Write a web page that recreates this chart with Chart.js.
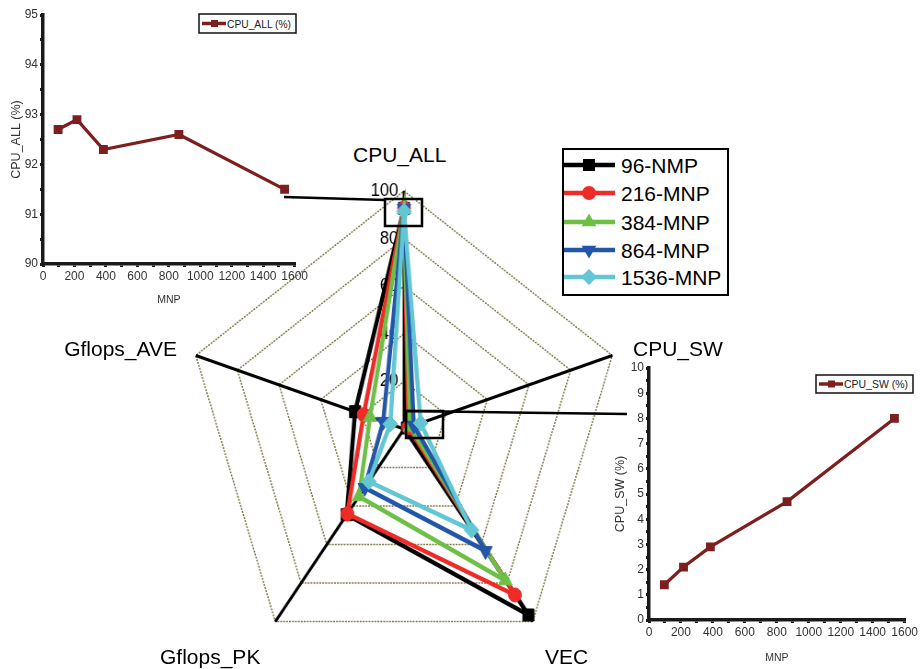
<!DOCTYPE html>
<html><head><meta charset="utf-8">
<script src="https://cdn.jsdelivr.net/npm/chart.js@4.4.1/dist/chart.umd.min.js"></script>
<style>
html,body{margin:0;padding:0;background:#fff;width:920px;height:669px;overflow:hidden;font-family:"Liberation Sans",Arial,sans-serif;}
.abs{position:absolute;}
#radarWrap{position:absolute;left:157px;top:182px;width:494px;height:494px;transform:scaleX(0.92);transform-origin:247px 247px;}
.plab{position:absolute;font-size:21px;line-height:21px;color:#000;white-space:nowrap;}
</style>
</head><body>
<div id="radarWrap"><canvas id="radar" width="494" height="494"></canvas></div>
<canvas id="in1" class="abs" style="left:0;top:0" width="310" height="310"></canvas>
<canvas id="in2" class="abs" style="left:600px;top:355px" width="320" height="314"></canvas>

<div class="plab" style="left:353px;top:144px">CPU_ALL</div>
<div class="plab" style="left:633px;top:338px">CPU_SW</div>
<div class="plab" style="left:20px;width:157px;text-align:right;top:338px">Gflops_AVE</div>
<div class="plab" style="left:545px;top:646px">VEC</div>
<div class="plab" style="left:160px;top:646px">Gflops_PK</div>

<svg id="legend" class="abs" style="left:562px;top:148px" width="167" height="148"></svg>
<svg id="leg1" class="abs" style="left:198px;top:13px" width="99" height="21"></svg>
<svg id="leg2" class="abs" style="left:815px;top:374px" width="99" height="20"></svg>

<svg class="abs" style="left:0;top:0" width="920" height="669">
  <line x1="284" y1="197" x2="385" y2="200" stroke="#000" stroke-width="2.5"/>
  <rect x="385" y="199" width="37" height="27" fill="none" stroke="#000" stroke-width="2.5"/>
  <rect x="406" y="411" width="37" height="27" fill="none" stroke="#000" stroke-width="2.5"/>
  <line x1="407" y1="411" x2="627" y2="414" stroke="#000" stroke-width="2.5"/>
</svg>

<script>
// ---------- data ----------
const axes = ['CPU_ALL', 'CPU_SW', 'VEC', 'Gflops_PK', 'Gflops_AVE'];
const seriesNames = ['96-NMP', '216-MNP', '384-MNP', '864-MNP', '1536-MNP'];
const s96   = [92.7, 1.4, 96.6, 44.5, 23.5];
const s216  = [92.9, 2.1, 86.2, 44.0, 19.4];
const s384  = [92.3, 2.9, 78.7, 35.0, 16.3];
const s864  = [92.6, 4.7, 63.3, 30.5, 10.0];
const s1536 = [91.5, 8.0, 52.5, 27.3, 6.6];
const radarTicks = [0, 20, 40, 60, 80, 100];
const mnp = [96, 216, 384, 864, 1536];
const cpuAll = [92.7, 92.9, 92.3, 92.6, 91.5];
const cpuSw = [1.4, 2.1, 2.9, 4.7, 8.0];
const mnpTicks = [0, 200, 400, 600, 800, 1000, 1200, 1400, 1600];

// ---------- styles ----------
const colors = ['#000000', '#ee2b27', '#6dbf46', '#2356a8', '#62c6d3'];
const styles = ['rect', 'circle', 'triangle', 'triangle', 'rectRot'];
const rots = [0, 0, 0, 180, 0];
const radii = [8.5, 7, 8.5, 8.5, 8];
const FAM = "'Liberation Sans', Arial, sans-serif";
const maroon = '#7d1f1f';

const allSeries = [s96, s216, s384, s864, s1536];
const tickPad = v => '\u2007'.repeat(String(v).length) + '\u2002\u2009';

new Chart(document.getElementById('radar'), {
  type: 'radar',
  data: {
    labels: axes,
    datasets: allSeries.map((d, i) => ({
      label: seriesNames[i], data: d,
      borderColor: colors[i], backgroundColor: colors[i],
      pointBackgroundColor: colors[i], pointBorderColor: colors[i],
      borderWidth: 4.5, pointStyle: styles[i], pointRotation: rots[i],
      pointRadius: radii[i], pointBorderWidth: 1, fill: false, tension: 0,
      order: 4 - i
    }))
  },
  options: {
    responsive: false, animation: false,
    layout: { padding: 0 },
    plugins: { legend: { display: false }, tooltip: { enabled: false } },
    scales: {
      r: {
        min: radarTicks[0], max: radarTicks[radarTicks.length - 1], beginAtZero: true,
        ticks: {
          stepSize: 20, color: '#000', font: { size: 18, family: FAM },
          showLabelBackdrop: false, backdropPadding: 0,
          callback: v => v + tickPad(v)
        },
        grid: { color: '#807648', lineWidth: 1.5, borderDash: [2, 1.2] },
        border: { dash: [2, 1.2] },
        angleLines: { color: '#000', lineWidth: 3 },
        pointLabels: { display: false }
      }
    }
  }
});

function inset(id, ys, yMin, yMax, yStep, yTitle, geo) {
  new Chart(document.getElementById(id), {
    type: 'line',
    data: {
      datasets: [{
        label: yTitle,
        data: mnp.map((x, i) => ({ x: x, y: ys[i] })),
        borderColor: maroon, backgroundColor: maroon,
        pointBackgroundColor: maroon, pointBorderColor: maroon,
        borderWidth: 3.2, pointStyle: 'rect', pointRadius: 4, tension: 0, fill: false
      }]
    },
    options: {
      responsive: false, animation: false,
      layout: { padding: { top: geo.top, right: geo.right, left: 0, bottom: 0 } },
      plugins: { legend: { display: false }, tooltip: { enabled: false } },
      scales: {
        x: {
          type: 'linear', min: mnpTicks[0], max: mnpTicks[mnpTicks.length - 1],
          ticks: {
            stepSize: 100, autoSkip: false, maxRotation: 0, padding: 2,
            color: '#333', font: { size: 12, family: FAM },
            callback: v => (mnpTicks.includes(v) ? String(v) : '')
          },
          grid: { drawOnChartArea: false, drawTicks: true, tickLength: 3, color: '#1a1a1a', lineWidth: 3 },
          border: { color: '#1a1a1a', width: 3.5 },
          title: { display: true, text: 'MNP', color: '#333', font: { size: 10.5, family: FAM }, padding: { top: 0, bottom: geo.xtb } },
          afterFit: s => { s.height = geo.xh; }
        },
        y: {
          min: yMin, max: yMax,
          ticks: {
            stepSize: yStep / 2, autoSkip: false, padding: 2,
            color: '#333', font: { size: 12, family: FAM },
            callback: v => (Math.abs(v - Math.round(v)) < 1e-6 ? String(Math.round(v)) : '')
          },
          grid: { drawOnChartArea: false, drawTicks: true, tickLength: 3, color: '#1a1a1a', lineWidth: 3 },
          border: { color: '#1a1a1a', width: 3.5 },
          title: { display: true, text: yTitle, color: '#333', font: { size: 12.5, family: FAM }, padding: { top: geo.ytp, bottom: 0 } },
          afterFit: s => { s.width = geo.yw; }
        }
      }
    }
  });
}
inset('in1', cpuAll, 90, 95, 1, 'CPU_ALL (%)', { top: 15, right: 15, xh: 46, yw: 43, xtb: 4, ytp: 9 });
inset('in2', cpuSw, 0, 10, 1, 'CPU_SW (%)', { top: 13, right: 13, xh: 49, yw: 49, xtb: 5, ytp: 13 });

// ---------- legends (svg) ----------
const NS = 'http://www.w3.org/2000/svg';
function el(parent, tag, attrs, text) {
  const e = document.createElementNS(NS, tag);
  for (const k in attrs) e.setAttribute(k, attrs[k]);
  if (text) e.textContent = text;
  parent.appendChild(e);
  return e;
}
function marker(svg, style, rot, x, y, r, c) {
  if (style === 'rect') { const s = r * Math.SQRT1_2; el(svg, 'rect', { x: x - s, y: y - s, width: 2 * s, height: 2 * s, fill: c }); }
  else if (style === 'circle') el(svg, 'circle', { cx: x, cy: y, r: r, fill: c });
  else if (style === 'triangle') {
    const sgn = rot ? -1 : 1;
    const pts = [[0, -r], [r * 0.866, r * 0.5], [-r * 0.866, r * 0.5]].map(p => (x + p[0]) + ',' + (y + sgn * p[1])).join(' ');
    el(svg, 'polygon', { points: pts, fill: c });
  } else if (style === 'rectRot') {
    el(svg, 'polygon', { points: `${x},${y - r} ${x + r},${y} ${x},${y + r} ${x - r},${y}`, fill: c });
  }
}
const lg = document.getElementById('legend');
el(lg, 'rect', { x: 1, y: 1, width: 165, height: 146, fill: '#fff', stroke: '#000', 'stroke-width': 2 });
const rowY = [17, 45, 74, 102, 129];
seriesNames.forEach((n, i) => {
  el(lg, 'line', { x1: 2, y1: rowY[i], x2: 53, y2: rowY[i], stroke: colors[i], 'stroke-width': 4.5 });
  marker(lg, styles[i], rots[i], 27, rowY[i], radii[i], colors[i]);
  el(lg, 'text', { x: 59, y: rowY[i] + 7.5, 'font-family': FAM, 'font-size': 21, fill: '#000' }, n);
});
function smallLegend(id, text) {
  const s = document.getElementById(id);
  const h = +s.getAttribute('height');
  el(s, 'rect', { x: 1, y: 1, width: 97, height: h - 2, fill: '#fff', stroke: '#111', 'stroke-width': 1.5 });
  el(s, 'line', { x1: 4, y1: h / 2, x2: 28, y2: h / 2, stroke: maroon, 'stroke-width': 3.5 });
  el(s, 'rect', { x: 13, y: h / 2 - 3.5, width: 7, height: 7, fill: maroon });
  el(s, 'text', { x: 29, y: h / 2 + 4, 'font-family': FAM, 'font-size': 10.5, fill: '#222', textLength: 64, lengthAdjust: 'spacingAndGlyphs' }, text);
}
smallLegend('leg1', 'CPU_ALL (%)');
smallLegend('leg2', 'CPU_SW (%)');
</script>
</body></html>
